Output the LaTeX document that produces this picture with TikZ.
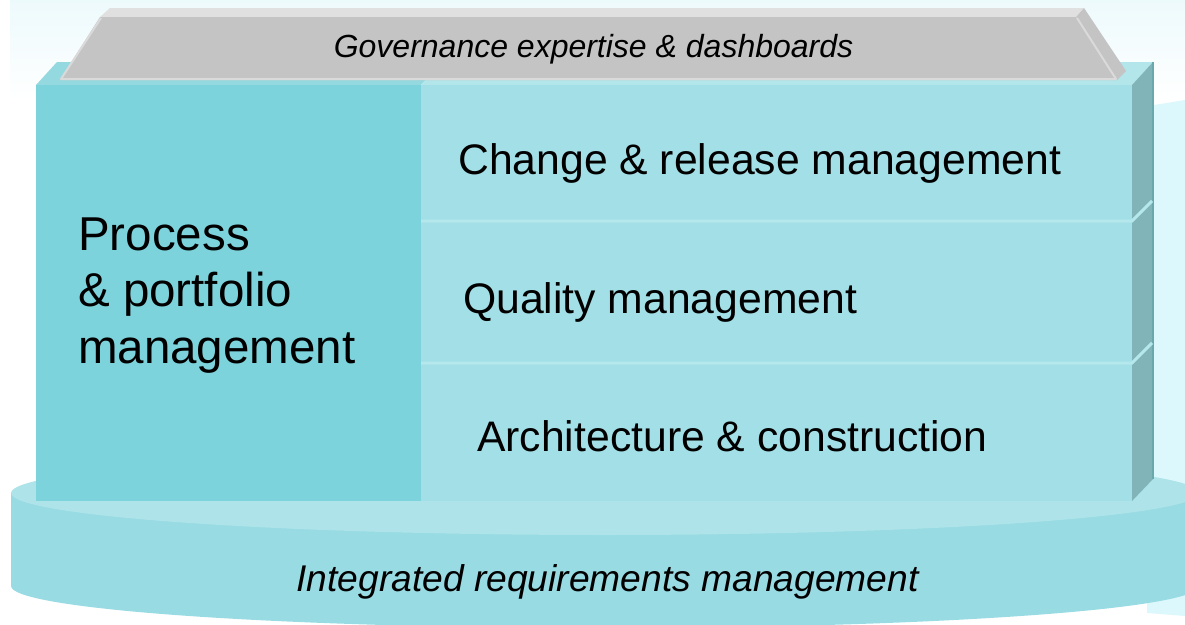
\documentclass[tikz,border=0pt]{standalone}
\usepackage{fontspec}
\setmainfont{Liberation Sans}
\definecolor{bgtop}{HTML}{EDFAFC}
\definecolor{panel}{HTML}{DDF8FC}
\definecolor{discside}{HTML}{98DBE3}
\definecolor{disctop}{HTML}{ADE3E9}
\definecolor{leftfront}{HTML}{7DD3DC}
\definecolor{lefttop}{HTML}{95D9E0}
\definecolor{rightfront}{HTML}{A3DFE6}
\definecolor{righttop}{HTML}{B2E6EA}
\definecolor{sideface}{HTML}{80B4B8}
\definecolor{sideedge}{HTML}{69A8AC}
\definecolor{sepline}{HTML}{B5E8EC}
\definecolor{rooftop}{HTML}{E0E0E0}
\definecolor{rooffront}{HTML}{C4C4C4}
\definecolor{roofedge}{HTML}{DADADA}
\tikzset{
  lbl/.style={inner sep=0pt, anchor=base west, text=black, font=\fontsize{42.7}{50}\selectfont},
  itl/.style={inner sep=0pt, anchor=base, text=black},
  sep/.style={draw=sepline, line width=3pt},
}
\begin{document}
\begin{tikzpicture}[x={(1pt,0)}, y={(0,-1pt)}]
\useasboundingbox (0,0) rectangle (1185,624);
\clip (0,0) rectangle (1185,624);
% background
\shade[top color=bgtop, bottom color=white] (10,0) rectangle (1185,100);
\fill[panel] (1154,105) -- (1185,100) -- (1185,616) -- (1147,613) -- (1147,560) -- (1154,560) -- cycle;
% disc
\fill[discside] (605,586) ellipse [x radius=594, y radius=42];
\fill[discside] (11,493) rectangle (1199,586);
\fill[disctop] (605,493) ellipse [x radius=594, y radius=42];
% box top faces
\fill[lefttop] (36,85) -- (421,85) -- (442,62) -- (57,62) -- cycle;
\fill[righttop] (421,85) -- (1132,85) -- (1153,62) -- (442,62) -- cycle;
% fronts
\fill[leftfront] (36,85) rectangle (421,501);
\fill[rightfront] (421,85) rectangle (1132,501);
% side face
\fill[sideface] (1132,85) -- (1153,62) -- (1153,479) -- (1132,501) -- cycle;
\draw[sideedge, line width=2pt] (1153,62) -- (1153,479);
% separators
\coordinate (s1a) at (421,221);
\coordinate (s1b) at (1132,221);
\coordinate (s1c) at (1152,201);
\coordinate (s2a) at (421,363);
\coordinate (s2b) at (1132,363);
\coordinate (s2c) at (1152,343);
\draw[sep] (s1a) -- (s1b) -- (s1c);
\draw[sep] (s2a) -- (s2b) -- (s2c);
% roof
\fill[rooftop] (110,8) -- (1084,8) -- (1076,17) -- (100,17) -- cycle;
\fill[rooffront] (1076,17) -- (1084,8) -- (1126,71) -- (1117,80) -- cycle;
\fill[rooffront] (100,17) -- (1076,17) -- (1117,80) -- (60,80) -- cycle;
\draw[roofedge, line width=2pt, line join=round] (101,18) -- (61,79) -- (1116,79) -- (1077,18);
% texts
\node[itl, font=\itshape\fontsize{32}{38}\selectfont] (gov) at (593.5,57) {Governance expertise \& dashboards};
\node[lbl] (chg) at (458,174) {Change \& release management};
\node[lbl] (qua) at (463,313) {Quality management};
\node[lbl] (arc) at (477,451) {Architecture \& construction};
\node[inner sep=0pt, anchor=base west, align=left, font=\fontsize{47.5}{56.5}\selectfont] (ppm) at (78,363) {Process\\\& portfolio\\management};
\node[itl, font=\itshape\fontsize{37.2}{44}\selectfont] (irm) at (607.5,591) {Integrated requirements management};
\end{tikzpicture}
\end{document}
